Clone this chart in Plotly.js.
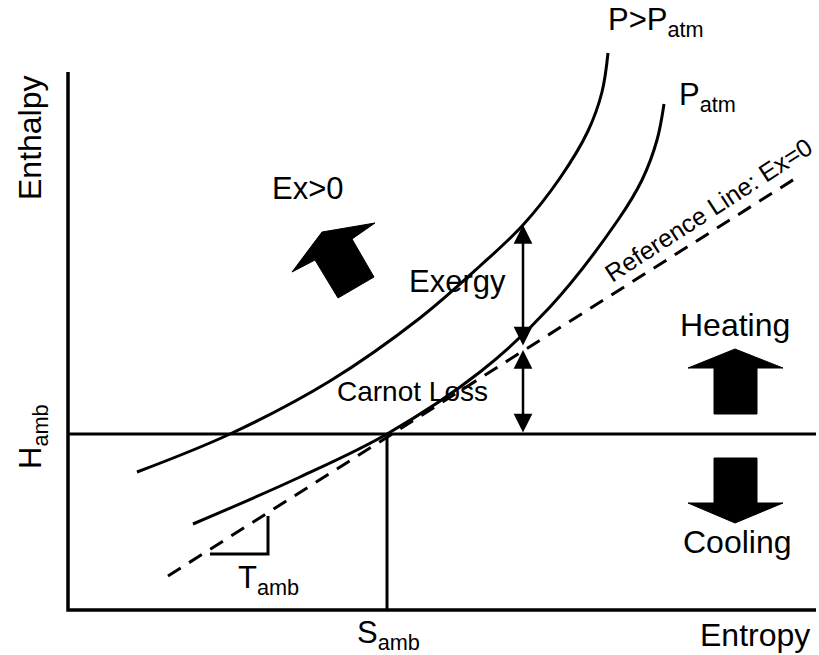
<!DOCTYPE html>
<html>
<head>
<meta charset="utf-8">
<script src="https://cdn.plot.ly/plotly-3.0.1.min.js"></script>
<style>html,body{margin:0;padding:0;background:#fff;}#chart{width:819px;height:655px;}</style>
</head>
<body>
<div id="chart"></div>
<script>
// ---- Data (entropy S on x, enthalpy H on y; arbitrary diagram units) ----
const S_AMB = 319;
const H_AMB = 176;
const S_MAX = 748;
const H_MAX = 538;

// Isobar P > Patm
const highP_S = [69, 162, 262, 352, 412, 455, 492, 520, 534, 540];
const highP_H = [138, 176, 229, 292, 344, 385, 432, 479, 518, 557];

// Isobar P = Patm
const atmP_S = [125, 232, 319, 412, 482, 550, 574, 589, 596];
const atmP_H = [86, 133, 176, 238, 303, 390, 430, 470, 506];

// Reference line Ex = 0 (slope T_amb, through the ambient state)
const ref_S = [100, 728];
const ref_H = [34, 432];

// T_amb slope triangle
const tri_S = [142, 200, 200];
const tri_H = [56, 56, 94];

// Exergy / Carnot loss bracket arrows at entropy S_BRACKET
const S_BRACKET = 455;
const exergy_H = [385, 263];   // from P>Patm isobar down to Patm isobar
const carnot_H = [260, H_AMB]; // from reference line down to H_amb

// Block arrows (outline polygons)
const heat_S = [620, 667, 715, 689, 689, 646, 646, 620];
const heat_H = [242, 261, 242, 242, 196, 196, 242, 242];
const cool_S = [646, 689, 689, 715, 667, 620, 646, 646];
const cool_H = [152, 152, 107, 107, 87, 107, 107, 152];
const exPos_S = [224, 254, 307, 284, 306, 270, 247, 224];
const exPos_H = [338, 378, 387, 371, 333, 312, 350, 338];

// Labels
const labels = [
  {t: 'P&gt;P<sub>atm</sub>', s: 588, h: 588, a: 0, z: 31},
  {t: 'P<sub>atm</sub>', s: 639, h: 513, a: 0, z: 31},
  {t: 'Ex&gt;0', s: 240, h: 422, a: 0, z: 31},
  {t: 'Exergy', s: 389, h: 329, a: 0, z: 31},
  {t: 'Carnot Loss', s: 344, h: 219, a: 0, z: 28},
  {t: 'Heating', s: 667, h: 285, a: 0, z: 32},
  {t: 'Cooling', s: 669, h: 68, a: 0, z: 32},
  {t: 'Enthalpy', s: -38, h: 472, a: -90, z: 32},
  {t: 'H<sub>amb</sub>', s: -35, h: 173, a: -90, z: 31},
  {t: 'S<sub>amb</sub>', s: 320, h: -25, a: 0, z: 31},
  {t: 'Entropy', s: 687, h: -25, a: 0, z: 32},
  {t: 'T<sub>amb</sub>', s: 200, h: 30, a: 0, z: 31}
];
const refLabel = {t: 'Reference Line: Ex=0', s: 640, h: 400, a: -33, z: 25};

// ---- Drawing ----
const FONT = 'Liberation Sans, Arial, sans-serif';
const blk = '#000000';
function line(x, y, w, dash, shape) {
  return {x: x, y: y, type: 'scatter', mode: 'lines', hoverinfo: 'skip',
    line: {color: blk, width: w, dash: dash || 'solid', shape: shape || 'linear', smoothing: 1}};
}
function poly(x, y) {
  return {x: x, y: y, type: 'scatter', mode: 'lines', fill: 'toself', fillcolor: blk,
    hoverinfo: 'skip', line: {color: blk, width: 1}};
}

const traces = [
  line([0, 0, S_MAX], [H_MAX, 0, 0], 3.5),
  line([0, S_MAX], [H_AMB, H_AMB], 3),
  line([S_AMB, S_AMB], [0, H_AMB], 3),
  line(ref_S, ref_H, 3, '15px,10px'),
  line(highP_S, highP_H, 3, 'solid', 'spline'),
  line(atmP_S, atmP_H, 3, 'solid', 'spline'),
  line(tri_S, tri_H, 3),
  poly(heat_S, heat_H),
  poly(cool_S, cool_H),
  poly(exPos_S, exPos_H)
];

const annotations = labels.map(l => ({
  text: l.t, x: l.s, y: l.h, xref: 'x', yref: 'y', showarrow: false,
  xanchor: 'center', yanchor: 'middle', textangle: l.a,
  font: {family: FONT, size: l.z, color: blk}
}));
annotations.push({
  text: refLabel.t, x: refLabel.s, y: refLabel.h, xref: 'x', yref: 'y', showarrow: false,
  xanchor: 'center', yanchor: 'middle', textangle: refLabel.a,
  font: {family: FONT, size: refLabel.z, color: blk}
});
function bracket(h) {
  return {x: S_BRACKET, y: h[0], ax: S_BRACKET, ay: h[1], xref: 'x', yref: 'y',
    axref: 'x', ayref: 'y', text: '', showarrow: true, arrowside: 'end+start',
    arrowhead: 2, startarrowhead: 2, arrowsize: 1.5, startarrowsize: 1.5,
    arrowwidth: 2.5, arrowcolor: blk, standoff: 0, startstandoff: 0};
}
annotations.push(bracket(exergy_H));
annotations.push(bracket(carnot_H));

const layout = {
  width: 819, height: 655,
  margin: {l: 0, r: 0, t: 0, b: 0, pad: 0},
  paper_bgcolor: '#ffffff', plot_bgcolor: '#ffffff',
  showlegend: false,
  xaxis: {range: [-68, 751], visible: false, fixedrange: true},
  yaxis: {range: [-45, 610], visible: false, fixedrange: true},
  annotations: annotations
};

Plotly.newPlot('chart', traces, layout, {staticPlot: true, displayModeBar: false});
</script>
</body>
</html>
